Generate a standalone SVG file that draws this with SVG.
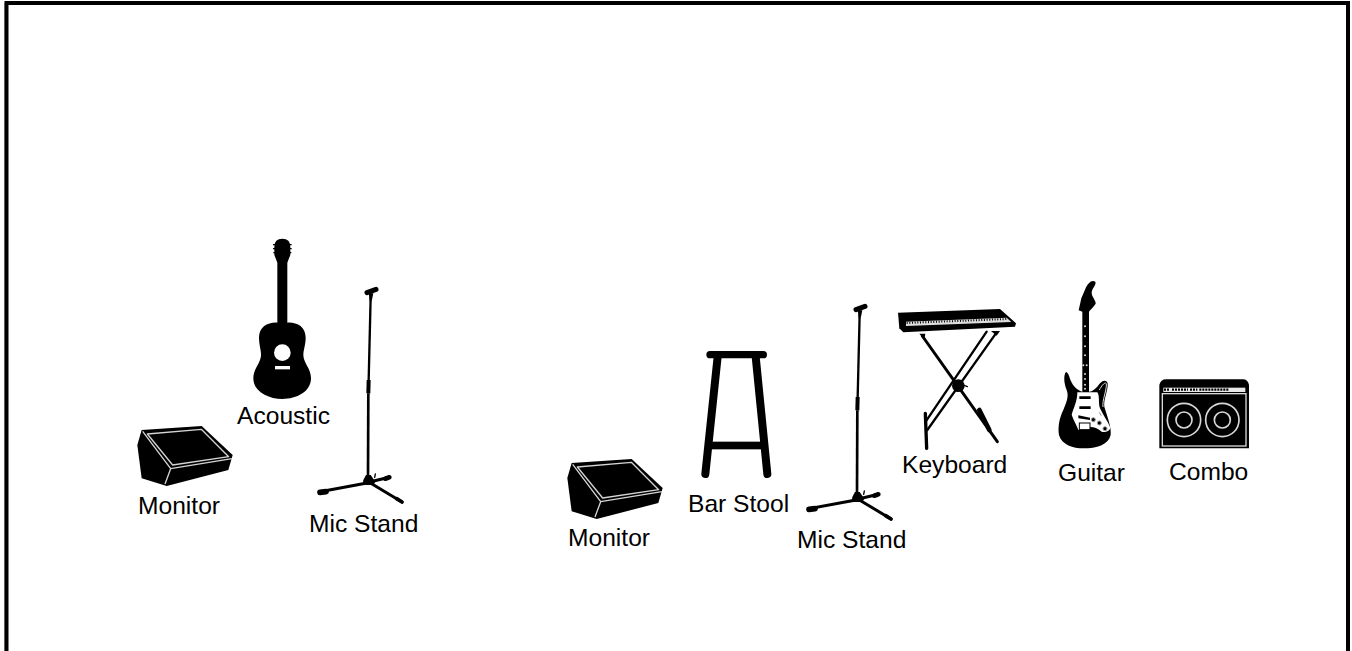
<svg xmlns="http://www.w3.org/2000/svg" width="1352" height="651" viewBox="0 0 1352 651">
<style>
text{font-family:"Liberation Sans",Arial,sans-serif;font-size:24.6px;fill:#000}
.k{fill:#000}
.w{fill:#fff}
.g{fill:none;stroke:#d4d4d4;stroke-width:4;stroke-linejoin:round}
.s{fill:none;stroke:#000;stroke-linecap:round}
.b{fill:none;stroke:#000}
</style>
<defs>
<g id="monitor-shape">
<path class="k" d="M65 600 L245 588 L338 675 L325 720 L140 768 L65 745 L52 645Z"/>
<path class="g" d="M82 612 L244 598 L326 680 L158 705Z"/>
<path class="g" d="M68 604 L152 716 L336 686 M152 716 L135 762"/>
</g>
<g id="mic-shape">
<path class="s" stroke-width="15" d="M741 188 L768 178"/>
<path class="k" d="M746 190 H760 L757 205 L752 218 H750Z"/>
<path class="b" stroke-width="7" d="M752 200 L746 450"/>
<path class="b" stroke-width="12" d="M746 450 L745 490"/>
<path class="b" stroke-width="8" d="M745 490 L744 745"/>
<path class="k" d="M738 735 L752 735 L766 755 L760 765 L728 765 L730 750Z"/>
<path class="s" stroke-width="9" d="M745 758 L600 785"/>
<path class="s" stroke-width="17" d="M600 787 L618 785"/>
<path class="s" stroke-width="9" d="M745 757 L808 742"/>
<path class="s" stroke-width="14" d="M796 746 L808 742"/>
<path class="s" stroke-width="9" d="M745 755 L846 816"/>
<path class="s" stroke-width="11" d="M830 806 L846 816"/>
<path class="s" stroke-width="4" d="M766 732 L764 742"/>
</g>
</defs>
<g id="frame">
<rect x="4" y="3" width="1" height="648" fill="#bbb"/>
<path class="b" stroke-width="4" d="M6.500 651 V3 H1348 V651"/>
</g>
<g id="connectors"></g>
<g id="acoustic">
<g transform="translate(120 230) scale(.33333)">
<path class="k" d="M463 50 Q463 26 487 26 Q511 26 511 50 L511 75 Q505 90 502 98 L502 278 C530 276 558 290 557 325 C556 355 545 370 553 390 C560 410 573 420 573 445 C573 485 530 507 487 507 C444 507 400 485 400 445 C400 420 413 410 420 390 C428 370 418 355 417 325 C416 290 445 276 472 278 L472 98 Q469 90 463 75Z"/>
<path class="s" stroke-width="4" d="M459 44 H515 M459 56 H515 M460 68 H514" style="stroke-linecap:butt"/>
<circle class="w" cx="487" cy="368" r="25"/>
<rect class="w" x="465" y="408" width="45" height="10"/>
</g>
<text x="237" y="424">Acoustic</text>
</g>
<g id="monitor-1">
<use href="#monitor-shape" transform="translate(120 230) scale(.33333)"/>
<text x="138" y="514">Monitor</text>
</g>
<g id="mic-stand-1">
<use href="#mic-shape" transform="translate(120 230) scale(.33333)"/>
<text x="309" y="532">Mic Stand</text>
</g>
<g id="monitor-2">
<use href="#monitor-shape" transform="translate(550 263) scale(.33333)"/>
<text x="568" y="546">Monitor</text>
</g>
<g id="bar-stool">
<g transform="translate(560 300) scale(.33333)">
<rect class="k" x="439" y="153" width="182" height="22" rx="11"/>
<path class="s" stroke-width="24" d="M473 170 L436 522 M587 170 L622 522"/>
<rect class="k" x="450" y="425" width="160" height="23"/>
</g>
<text x="688" y="512">Bar Stool</text>
</g>
<g id="mic-stand-2">
<use href="#mic-shape" transform="translate(609 247) scale(.33333)"/>
<text x="797" y="548">Mic Stand</text>
</g>
<g id="keyboard">
<g transform="translate(890 275) scale(.33333)">
<path class="k" d="M24 113 L330 102 L378 145 L375 155 L40 172 L28 160Z"/>
<path fill="#ddd" d="M48 140 L350 128 L364 141 L48 153Z"/>
<path fill="none" stroke="#000" stroke-width="6" stroke-dasharray="3 5" d="M50 144 L352 132"/>
<path class="s" stroke-width="9" d="M97 183 L322 500"/>
<path class="k" d="M88 176 L106 176 L103 194Z M303 168 L330 168 L320 182Z"/>
<path class="s" stroke-width="7" d="M290 170 L107 440 M320 172 L112 465"/>
<path class="s" stroke-width="10" d="M106 415 L110 520"/>
<path class="s" stroke-width="14" d="M268 405 L298 465"/>
<circle class="k" cx="205" cy="332" r="19"/>
<path class="s" stroke-width="4" d="M220 330 L232 335"/>
</g>
<text x="902" y="473">Keyboard</text>
</g>
<g id="guitar">
<g transform="translate(1040 275) scale(.33333)">
<path class="k" d="M127 110 L116 106 L124 70 L135 44 C145 22 155 14 166 20 C170 30 155 40 155 54 C155 65 167 75 167 86 C160 97 150 105 147 110Z"/>
<rect class="k" x="127" y="105" width="20" height="250"/>
<path class="k" d="M127 350 C110 345 95 330 88 305 C85 295 80 291 78 291 C70 300 72 325 80 345 C88 365 78 385 70 405 C58 430 53 455 57 480 C65 510 100 520 130 520 C170 520 205 510 212 480 C215 455 200 420 193 395 C190 375 205 345 203 325 C200 315 190 315 180 325 C170 338 160 350 147 350Z"/>
<path fill="none" stroke="#ddd" stroke-width="3" d="M178 345 C186 330 195 320 199 326 C201 345 186 375 189 396"/>
<path class="w" d="M112 352 H172 C180 362 174 385 180 400 C190 422 204 440 211 458 C208 470 195 472 185 470 C175 462 165 456 150 456 L115 465 C110 450 100 435 95 419 C100 400 112 380 112 352Z"/>
<path class="k" d="M118 364 H152 V372 H118Z M118 394 H152 V402 H118Z M115 421 L150 428 V435 L115 430Z"/>
<rect class="w" x="118" y="444" width="32" height="20" stroke="#000" stroke-width="3"/>
<g fill="#000" stroke="#999" stroke-width="3">
<circle cx="160" cy="434" r="6"/><circle cx="178" cy="444" r="6"/><circle cx="195" cy="461" r="6"/>
</g>
<g fill="#ddd">
<circle cx="135" cy="154" r="3"/><circle cx="135" cy="184" r="3"/><circle cx="135" cy="214" r="3"/><circle cx="135" cy="241" r="3"/>
<circle cx="130" cy="271" r="3"/><circle cx="140" cy="271" r="3"/><circle cx="135" cy="297" r="3"/><circle cx="135" cy="312" r="3"/><circle cx="135" cy="329" r="3"/><circle cx="135" cy="341" r="3"/>
</g>
<path fill="none" stroke="#888" stroke-width="3" d="M178 412 L184 422"/>
</g>
<text x="1058" y="481">Guitar</text>
</g>
<g id="combo">
<g transform="translate(1040 275) scale(.33333)">
<path class="k" d="M358 330 Q362 313 378 313 H608 Q624 313 627 330 V520 H358Z"/>
<rect fill="#e8e8e8" x="370" y="338" width="246" height="13"/>
<path fill="none" stroke="#000" stroke-width="7" stroke-dasharray="6 3" d="M372 344 H388 M396 344 H444 M450 344 H472 M478 344 H566"/>
<rect x="367" y="356" width="251" height="157" fill="none" stroke="#d8d8d8" stroke-width="4"/>
<g fill="none" stroke="#d8d8d8" stroke-width="5">
<circle cx="432" cy="435" r="50"/><circle cx="432" cy="435" r="24"/>
<circle cx="547" cy="435" r="50"/><circle cx="547" cy="435" r="24"/>
</g>
</g>
<text x="1169" y="480">Combo</text>
</g>
</svg>
